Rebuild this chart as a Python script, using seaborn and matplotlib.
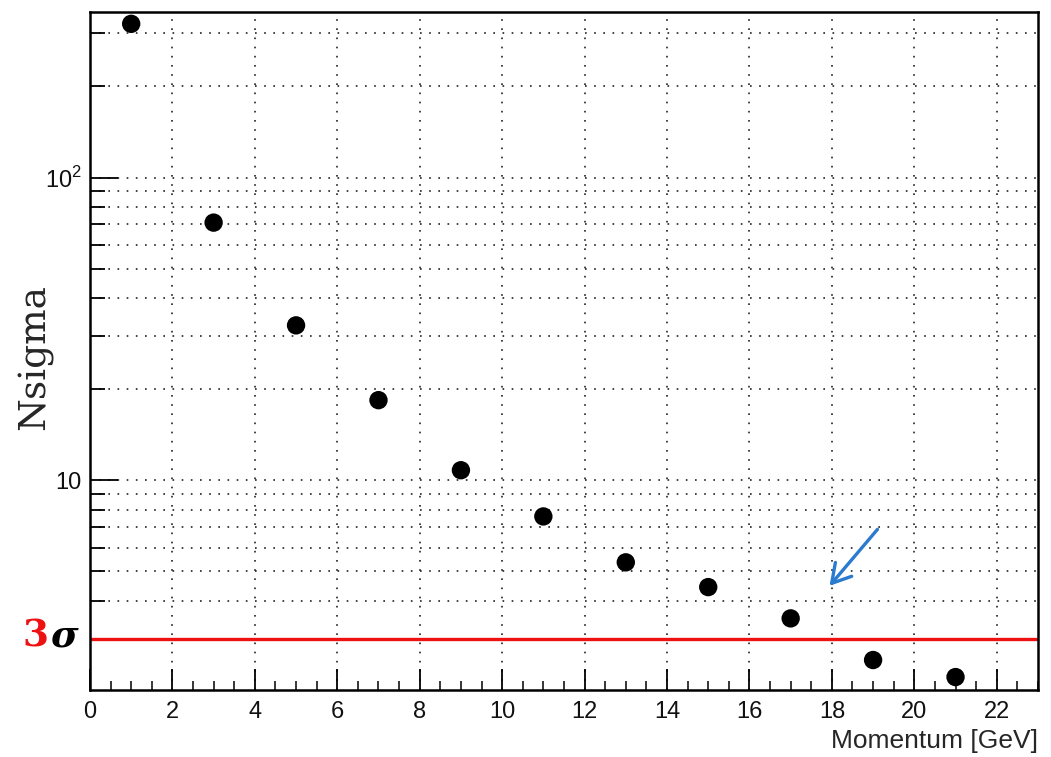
import numpy as np
import pandas as pd
import matplotlib
matplotlib.use("Agg")
import matplotlib.pyplot as plt
import matplotlib.ticker as mticker
import seaborn as sns

# data
momentum = [1, 3, 5, 7, 9, 11, 13, 15, 17, 19, 21]
nsigma = [322, 71, 32.5, 18.4, 10.8, 7.6, 5.36, 4.44, 3.50, 2.55, 2.24]
threshold = 3
ytick_vals = [10, 100]
ytick_labels = ["10", "$10^2$"]

df = pd.DataFrame({"momentum": momentum, "nsigma": nsigma})

sns.set_style("ticks")
plt.rcParams["font.family"] = ["Liberation Sans", "DejaVu Sans"]
plt.rcParams["mathtext.fontset"] = "custom"
plt.rcParams["mathtext.rm"] = "Liberation Sans"

fig = plt.figure(figsize=(10.51, 7.57), dpi=100)
ax = fig.add_axes([0.0856, 0.0885, 0.902, 0.8955])

ax.set_yscale("log")
ax.set_xlim(0, 23)
ax.set_ylim(2.03, 352)

# grid: dotted, major on x, major+minor on y
ax.xaxis.set_major_locator(mticker.MultipleLocator(2))
ax.xaxis.set_minor_locator(mticker.MultipleLocator(0.5))
ax.yaxis.set_major_locator(mticker.FixedLocator(ytick_vals))
ax.yaxis.set_major_formatter(mticker.FixedFormatter(ytick_labels))
ax.yaxis.set_minor_locator(mticker.LogLocator(base=10, subs=np.arange(2, 10)))
ax.yaxis.set_minor_formatter(mticker.NullFormatter())
dots = (0, (1, 4.5))
ax.grid(True, which="major", axis="x", ls=dots, color="#222222", lw=1.2)
ax.grid(True, which="both", axis="y", ls=dots, color="#222222", lw=1.2)
ax.set_axisbelow(True)

ax.axhline(threshold, color="#ee1111", lw=2.4, zorder=2)

sns.scatterplot(data=df, x="momentum", y="nsigma", ax=ax, color="black",
                s=175, edgecolor="none", zorder=3, legend=False)

ax.tick_params(axis="both", which="both", direction="in", top=False, right=False,
               labelsize=17, labelcolor="#111111", color="black")
ax.tick_params(axis="x", which="major", length=15, width=1.3, pad=8)
ax.tick_params(axis="x", which="minor", length=6.5, width=1.1)
ax.tick_params(axis="y", which="major", length=20, width=1.3, pad=6)
ax.tick_params(axis="y", which="minor", length=11, width=1.3)
for sp in ax.spines.values():
    sp.set_linewidth(1.8)
    sp.set_color("black")

ax.set_xlabel("Momentum [GeV]", fontsize=19)
ax.xaxis.set_label_coords(1.0, -0.058)
ax.xaxis.label.set_horizontalalignment("right")
ax.xaxis.label.set_verticalalignment("top")
ax.set_ylabel("Nsigma", fontsize=27, family="DejaVu Serif")
ax.yaxis.label.set_verticalalignment("center")
ax.yaxis.set_label_coords(-0.058, 0.491)

# 3 sigma label left of the axis
ymid = 1 - 636 / 757
fig.text(22 / 1051, ymid, "3", color="#ee1111", fontsize=27, fontweight="bold",
         family="DejaVu Serif", ha="left", va="center")
fig.text(50 / 1051, ymid, "σ", color="black", fontsize=27, fontweight="bold",
         style="italic", family="DejaVu Serif", ha="left", va="center")

# blue arrow pointing at the 17 GeV point
ax.annotate("", xy=(17.9, 4.41), xytext=(19.15, 7.0),
            arrowprops=dict(arrowstyle="->,head_length=0.6,head_width=0.35",
                            color="#2a7bd0", lw=2.4, mutation_scale=22))

fig.savefig("out.png", dpi=100)
